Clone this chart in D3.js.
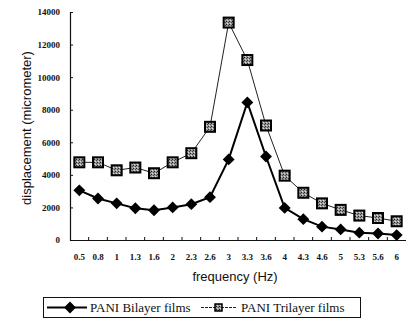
<!DOCTYPE html>
<html>
<head>
<meta charset="utf-8">
<script src="https://cdn.jsdelivr.net/npm/d3@7"></script>
<style>
  body { margin: 0; background: #fff; }
  svg { display: block; }
  .tick text { font-family: "Liberation Serif", serif; font-weight: bold; font-size: 9px; fill: #111; }
  .title { font-family: "Liberation Sans", sans-serif; font-size: 13px; fill: #111; }
  .legend text { font-family: "Liberation Serif", serif; font-size: 13px; fill: #111; }
</style>
</head>
<body>
<svg id="chart" width="406" height="327"></svg>
<script>
  const frequencies = ['0.5', '0.8', '1', '1.3', '1.6', '2', '2.3', '2.6', '3', '3.3', '3.6', '4', '4.3', '4.6', '5', '5.3', '5.6', '6'];
  const bilayer = [3050, 2550, 2250, 1950, 1830, 2000, 2200, 2630, 4950, 8450, 5130, 1970, 1280, 820, 650, 450, 400, 300];
  const trilayer = [4770, 4770, 4280, 4450, 4100, 4770, 5330, 6950, 13350, 11050, 7030, 3950, 2900, 2250, 1850, 1500, 1350, 1150];
  const yTicks = [0, 2000, 4000, 6000, 8000, 10000, 12000, 14000];

  const svg = d3.select('#chart');
  const margin = {left: 70, top: 12, right: 0, bottom: 87};
  const width = 406 - margin.left - margin.right;
  const height = 327 - margin.top - margin.bottom;

  const chart = svg.append('g').attr('transform', 'translate(' + margin.left + ',' + margin.top + ')');

  const x = d3.scaleBand().domain(frequencies).range([0, width]);
  const y = d3.scaleLinear().domain([0, 14000]).range([height, 0]);

  // y axis, ticks pointing inward
  const yAxis = chart.append('g').call(d3.axisLeft(y).tickValues(yTicks).tickSize(-3).tickPadding(10).tickFormat(d3.format('d')));
  yAxis.select('.domain').attr('stroke', '#111').attr('stroke-width', 1.2);
  yAxis.selectAll('.tick line').attr('stroke', '#111');

  // x axis, ticks at band boundaries
  const xAxis = chart.append('g').attr('transform', 'translate(0,' + height + ')')
      .call(d3.axisBottom(x).tickSize(0).tickPadding(14));
  xAxis.select('.domain').attr('stroke', '#111').attr('stroke-width', 1.2);
  xAxis.selectAll('.bound').data(d3.range(1, frequencies.length))
    .enter().append('line')
      .attr('x1', d => d * x.step()).attr('x2', d => d * x.step())
      .attr('y1', 0).attr('y2', -3)
      .attr('stroke', '#111');

  const cx = d => x(d) + x.bandwidth() / 2;

  const line = d3.line().x((d, i) => cx(frequencies[i])).y(d => y(d));

  chart.append('path').datum(trilayer)
    .attr('d', line).attr('fill', 'none').attr('stroke', '#222').attr('stroke-width', 1);
  chart.append('path').datum(bilayer)
    .attr('d', line).attr('fill', 'none').attr('stroke', '#000').attr('stroke-width', 2);

  // speckled fill for squares
  const defs = svg.append('defs');
  const pat = defs.append('pattern').attr('id', 'speckle').attr('width', 3).attr('height', 3)
    .attr('patternUnits', 'userSpaceOnUse');
  pat.append('rect').attr('width', 3).attr('height', 3).attr('fill', '#999');
  pat.append('rect').attr('width', 1).attr('height', 1).attr('fill', '#222');
  pat.append('rect').attr('x', 2).attr('y', 1).attr('width', 1).attr('height', 1).attr('fill', '#444');
  pat.append('rect').attr('x', 1).attr('y', 2).attr('width', 1).attr('height', 1).attr('fill', '#ddd');

  chart.append('g').selectAll('rect').data(trilayer).enter().append('rect')
    .attr('x', (d, i) => cx(frequencies[i]) - 5)
    .attr('y', d => y(d) - 5)
    .attr('width', 10).attr('height', 10)
    .attr('fill', 'url(#speckle)').attr('stroke', '#000').attr('stroke-width', 2);

  const diamond = d3.symbol().type(d3.symbolDiamond2).size(90);
  chart.append('g').selectAll('path').data(bilayer).enter().append('path')
    .attr('d', diamond)
    .attr('transform', (d, i) => 'translate(' + cx(frequencies[i]) + ',' + y(d) + ')')
    .attr('fill', '#000');

  // titles
  svg.append('text').attr('class', 'title')
    .attr('x', 235).attr('y', 281).attr('text-anchor', 'middle')
    .text('frequency (Hz)');
  svg.append('text').attr('class', 'title')
    .attr('transform', 'translate(31,128) rotate(-90)').attr('text-anchor', 'middle')
    .text('displacement (micrometer)');

  // legend
  const legend = svg.append('g').attr('class', 'legend');
  legend.append('rect').attr('x', 43.5).attr('y', 297.5).attr('width', 317).attr('height', 20)
    .attr('fill', 'none').attr('stroke', '#111').attr('stroke-width', 1);
  legend.append('line').attr('x1', 47).attr('x2', 87).attr('y1', 307.5).attr('y2', 307.5)
    .attr('stroke', '#000').attr('stroke-width', 2);
  legend.append('path').attr('d', diamond).attr('transform', 'translate(70,307.5)').attr('fill', '#000');
  legend.append('text').attr('x', 90).attr('y', 312).text('PANI Bilayer films');
  legend.append('line').attr('x1', 201).attr('x2', 237).attr('y1', 307.5).attr('y2', 307.5)
    .attr('stroke', '#222').attr('stroke-width', 1).attr('stroke-dasharray', '3,1');
  legend.append('rect').attr('x', 215).attr('y', 304).attr('width', 7).attr('height', 7)
    .attr('fill', 'url(#speckle)').attr('stroke', '#000').attr('stroke-width', 1.5);
  legend.append('text').attr('x', 241).attr('y', 312).text('PANI Trilayer films');
</script>
</body>
</html>
